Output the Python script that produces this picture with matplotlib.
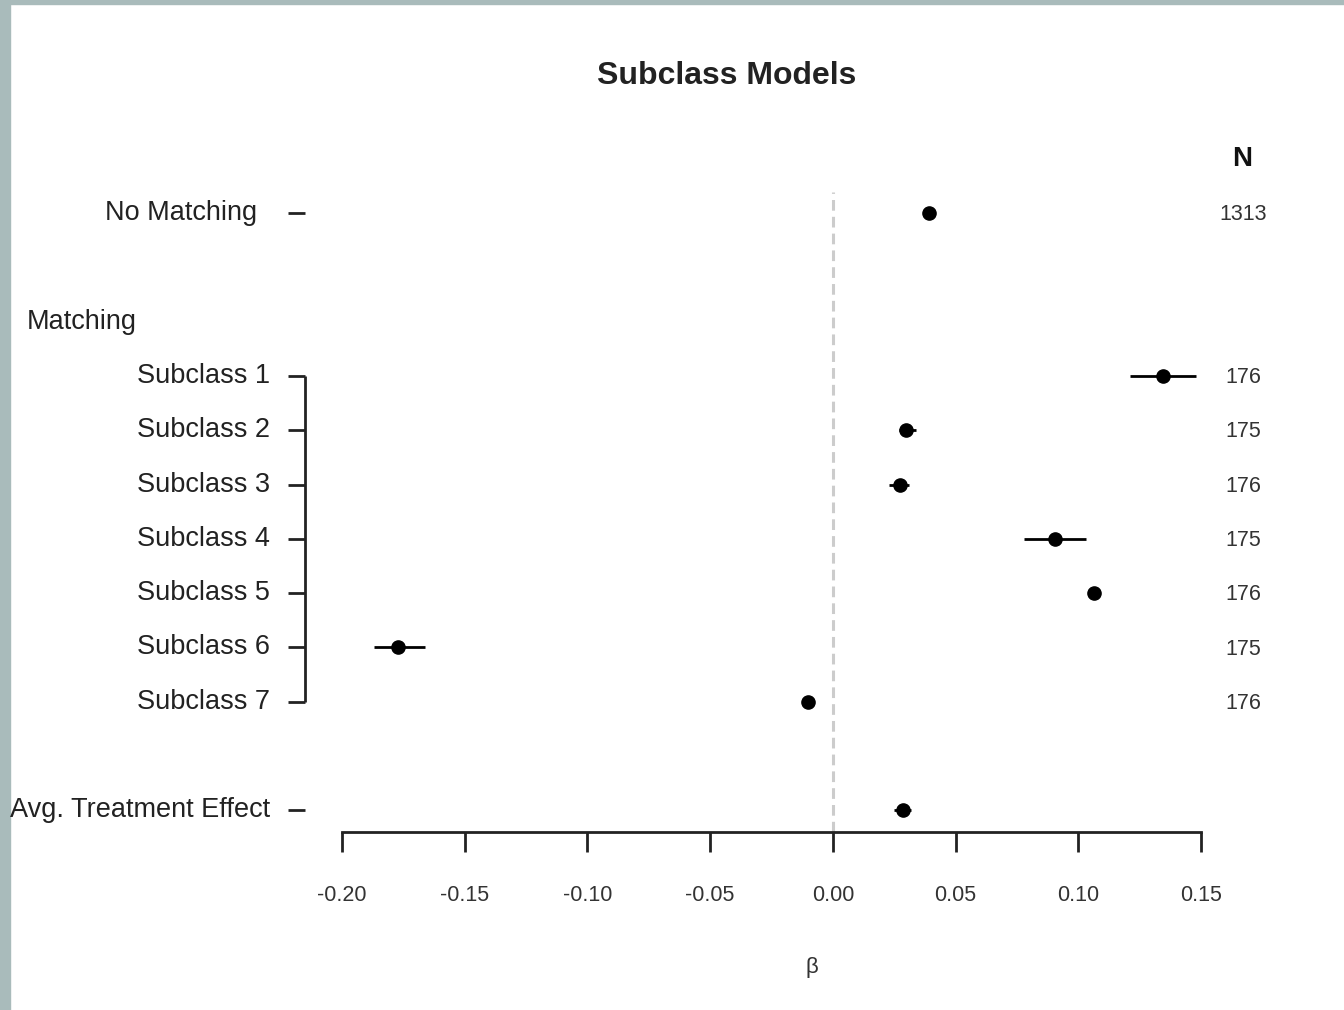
import matplotlib
matplotlib.use("Agg")
import matplotlib.pyplot as plt
from matplotlib.transforms import blended_transform_factory
from matplotlib.patches import Rectangle

plt.rcParams['font.family'] = ['Liberation Sans', 'DejaVu Sans']

# ---- data ----
row_labels = ["No Matching", "Subclass 1", "Subclass 2", "Subclass 3", "Subclass 4",
              "Subclass 5", "Subclass 6", "Subclass 7", "Avg. Treatment Effect"]
row_pos = [11, 8, 7, 6, 5, 4, 3, 2, 0]
estimates = [0.039, 0.1345, 0.030, 0.0275, 0.0905, 0.1065, -0.177, -0.010, 0.0285]
ci_low = [0.037, 0.121, 0.027, 0.023, 0.078, 0.105, -0.187, -0.011, 0.025]
ci_high = [0.041, 0.148, 0.034, 0.031, 0.103, 0.108, -0.166, -0.009, 0.032]
n_values = ["1313", "176", "175", "176", "175", "176", "175", "176"]
n_rows = [11, 8, 7, 6, 5, 4, 3, 2]
xticks = [-0.20, -0.15, -0.10, -0.05, 0.00, 0.05, 0.10, 0.15]
xticklabels = ["-0.20", "-0.15", "-0.10", "-0.05", "0.00", "0.05", "0.10", "0.15"]

W, H = 1344, 1010
fig = plt.figure(figsize=(W / 100, H / 100), dpi=100)
fig.patch.set_facecolor('white')

# grey border strips
fig.add_artist(Rectangle((0, 0), 10 / W, 1, transform=fig.transFigure, color='#a9bbbb', zorder=0))
fig.add_artist(Rectangle((0, 1 - 4 / H), 1, 4 / H, transform=fig.transFigure, color='#a9bbbb', zorder=0))

L, R = 342, 1201
ybot, ytop = 832, 142.7
ax = fig.add_axes([L / W, (H - ybot) / H, (R - L) / W, (ybot - ytop) / H])
ax.set_xlim(-0.20, 0.15)
ax.set_ylim(-0.4, 12.3)
ax.patch.set_alpha(0)
for s in ['top', 'right', 'left']:
    ax.spines[s].set_visible(False)
ax.spines['bottom'].set_linewidth(2.0)
ax.spines['bottom'].set_color('#222222')
ax.set_yticks([])
ax.set_xticks(xticks)
ax.set_xticklabels(xticklabels, fontsize=15.5, color='#333333')
ax.tick_params(axis='x', length=14.5, width=2.0, color='#222222', pad=24)

# x label (beta)
fig.text(812 / W, 1 - 967 / H, "β", ha='center', va='center', fontsize=16, color='#333333')

# zero reference line
ax.plot([0, 0], [-0.4, 11.4], ls=(0, (3.5, 2.0)), color='#cccccc', lw=2.2, zorder=1)

# estimates and intervals
for y, e, lo, hi in zip(row_pos, estimates, ci_low, ci_high):
    ax.plot([lo, hi], [y, y], color='black', lw=2.0, zorder=3, solid_capstyle='butt')
ax.plot(estimates, row_pos, 'o', color='black', markersize=9.5, zorder=4)

# left labels and bracket
tr = blended_transform_factory(fig.transFigure, ax.transData)
for lab, y in zip(row_labels, row_pos):
    xr = 257 if lab == "No Matching" else 270
    ax.text(xr / W, y, lab, transform=tr, ha='right', va='center', fontsize=19.5,
            color='#222222', clip_on=False)
    ax.plot([288 / W, 305 / W], [y, y], transform=tr, color='#222222', lw=2.0,
            clip_on=False, solid_capstyle='butt')
ax.plot([305 / W, 305 / W], [8, 2], transform=tr, color='#222222', lw=2.0,
        clip_on=False, solid_capstyle='butt')
ax.text(27 / W, 9, "Matching", transform=tr, ha='left', va='center', fontsize=19.5,
        color='#222222', clip_on=False)

# N column
ax.text(1242 / W, 12.0, "N", transform=tr, ha='center', va='center', fontsize=20,
        fontweight='bold', color='#111111', clip_on=False)
for nv, y in zip(n_values, n_rows):
    ax.text(1243 / W, y - 0.03, nv, transform=tr, ha='center', va='center', fontsize=15.5,
            color='#333333', clip_on=False)

fig.text(727 / W, 1 - 76 / H, "Subclass Models", ha='center', va='center', fontsize=23,
         fontweight='bold', color='#222222')

fig.savefig("out.png", dpi=100)
